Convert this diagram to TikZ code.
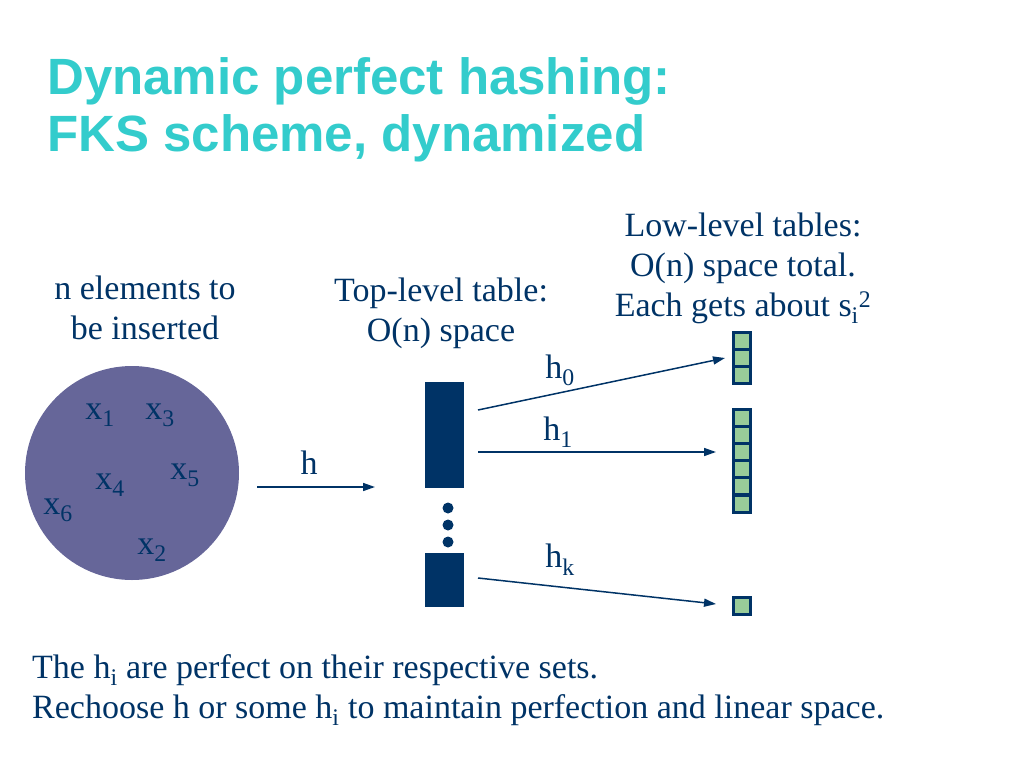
\documentclass[tikz,border=0pt]{standalone}
\usepackage{fontspec}
\setmainfont{Liberation Serif}
\newfontfamily\titlefont{Liberation Sans}
\usetikzlibrary{arrows.meta}

\definecolor{titlecyan}{RGB}{51,204,204}
\definecolor{navy}{RGB}{0,51,102}
\definecolor{setpurple}{RGB}{102,102,153}
\definecolor{cellgreen}{RGB}{153,204,153}

\begin{document}
\begin{tikzpicture}
[
	x=1pt,
	y=-1pt,
	txt/.style={text=navy,font=\fontsize{34}{40}\selectfont,inner sep=0pt},
	toprow/.style={fill=navy,draw=navy,minimum width=38,minimum height=52.5,inner sep=0pt},
	cell/.style={fill=cellgreen,draw=navy,line width=3pt,minimum size=17,inner sep=0pt},
	dot/.style={circle,fill=navy,inner sep=0pt,minimum size=11},
	hash/.style={-{Triangle[length=12pt,width=8pt]},navy,line width=1.5pt}
]
	\useasboundingbox (0,0) rectangle (1024,768);

	% title
	\node[anchor=west,align=left,inner sep=0pt,text=titlecyan,
	  font=\titlefont\bfseries\fontsize{51}{57}\selectfont] (title) at (47,110)
	  {Dynamic perfect hashing:\\FKS scheme, dynamized};

	% the set of elements
	\node[txt,align=center] (elems) at (145,308) {n elements to\\be inserted};
	\node[circle,fill=setpurple,minimum size=214,inner sep=0pt] (set) at (132,473) {};
	\foreach \i/\px/\py in {1/100/415,3/160/415,4/110/485,5/185/475,6/58/510,2/152/550} {
		\node[txt] (x\i) at (\px,\py) {x\textsubscript{\i}};
	}

	% h
	\coordinate (hstart) at (257,487);
	\coordinate (hend) at (375,487);
	\draw[hash] (hstart) -- (hend);
	\node[txt] (hlab) at (309,463) {h};

	% top-level table
	\node[txt,align=center] (toptxt) at (441,313) {Top-level table:\\O(n) space};
	\node[toprow] (top0) at (444,408.75) {};
	\node[toprow] (top1) at (444,461.25) {};
	\node[toprow] (topk) at (444,579.5) {};
	\foreach \y in {508,525,542} {
		\node[dot] at (448,\y) {};
	}

	% low-level tables
	\node[txt,align=center] (lowtxt) at (743,268)
	  {Low-level tables:\\O(n) space total.\\Each gets about s\textsubscript{i}\textsuperscript{2}};
	\foreach \k in {0,1,2} {
		\node[cell] (low0-\k) at (741.5,{340.5+17*\k}) {};
	}
	\foreach \k in {0,...,5} {
		\node[cell] (low1-\k) at (741.5,{417.5+17.2*\k}) {};
	}
	\node[cell] (lowk-0) at (741.5,605.5) {};

	% second-level hash functions
	\coordinate (s0) at (478,410);
	\coordinate (e0) at (725,358);
	\coordinate (s1) at (478,452);
	\coordinate (e1) at (716,452);
	\coordinate (sk) at (478,578);
	\coordinate (ek) at (716,604);
	\draw[hash] (s0) -- (e0);
	\draw[hash] (s1) -- (e1);
	\draw[hash] (sk) -- (ek);
	\node[txt] (h0) at (560,370) {h\textsubscript{0}};
	\node[txt] (h1) at (558,432) {h\textsubscript{1}};
	\node[txt] (hk) at (560,560) {h\textsubscript{k}};

	% remarks
	\node[txt,anchor=west,align=left] (remarks) at (32,690)
	  {The h\textsubscript{i} are perfect on their respective sets.\\
	   Rechoose h or some h\textsubscript{i} to maintain perfection and linear space.};

\end{tikzpicture}
\end{document}
